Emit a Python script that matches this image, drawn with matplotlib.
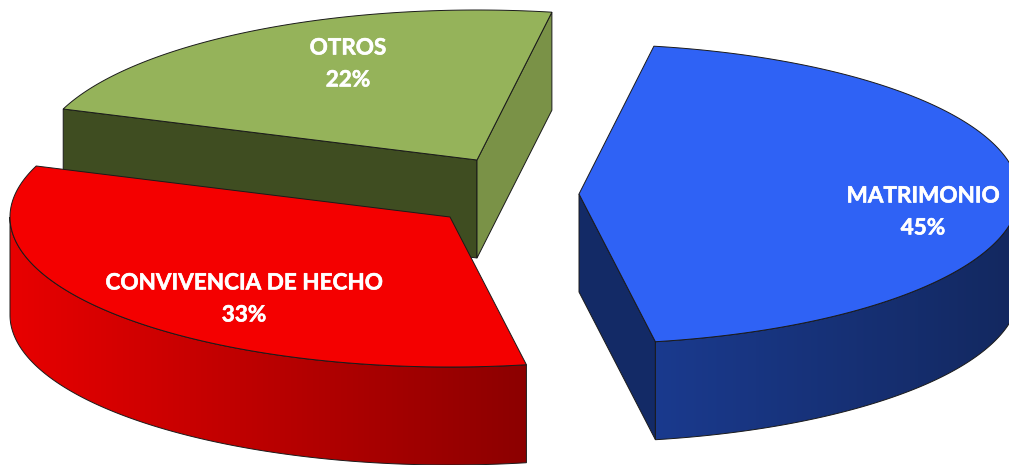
import numpy as np
import matplotlib
matplotlib.use('Agg')
import matplotlib.pyplot as plt
import matplotlib.patheffects as pe
from matplotlib.patches import Polygon
from matplotlib.colors import LinearSegmentedColormap

labels = ['MATRIMONIO', 'OTROS', 'CONVIVENCIA DE HECHO']
percent_text = [45, 22, 33]
values = [44.5, 22.2, 33.3]

# estilo de cada porcion
top_colors = ['#2f62f5', '#95b35a', '#f40000']
front_colors = [('#1a3a8e', '#13285f'), ('#76923c', '#76923c'), ('#e80000', '#8c0000')]
edge_a_colors = ['#132a66', '#7a9247', '#8c0000']   # cara del borde inicial
edge_b_colors = ['#132a66', '#3f4d21', '#8c0000']   # cara del borde final
centers = [(579, 194), (477, 160), (450, 217)]
label_pos = [(923, 196), (348, 48), (244, 283)]

rx, ry = 440, 150
depth = 98
start_angle = -80  # empieza matrimonio, a la derecha
edge = '#1a1a1a'

fig = plt.figure(figsize=(10.09, 4.65), dpi=100)
ax = fig.add_axes([0, 0, 1, 1])
ax.set_xlim(0, 1009)
ax.set_ylim(465, 0)
ax.axis('off')


def pt(c, deg):
    t = np.radians(deg)
    return np.column_stack((c[0] + rx * np.cos(t), c[1] - ry * np.sin(t)))


# angulos a partir de los valores
sweeps = np.array(values) / sum(values) * 360
a1 = start_angle + np.concatenate(([0], np.cumsum(sweeps)[:-1]))
a2 = a1 + sweeps

# se dibuja de atras hacia adelante
for i in [1, 2, 0]:
    c = centers[i]
    d = np.array([0, depth])
    p1 = pt(c, a1[i])[0]
    p2 = pt(c, a2[i])[0]
    cc = np.array(c, dtype=float)

    # caras planas
    if i == 0:
        ax.add_patch(Polygon([cc, p1, p1 + d, cc + d], fc=edge_a_colors[i], ec=edge, lw=0.7))
    if i == 1:
        ax.add_patch(Polygon([cc, p2, p2 + d, cc + d], fc=edge_b_colors[i], ec=edge, lw=0.7))
        ax.add_patch(Polygon([cc, p1, p1 + d, cc + d], fc=edge_a_colors[i], ec=edge, lw=0.7))

    # pared curva de adelante, con degradado
    if a1[i] > 90:
        lo, hi = max(a1[i], 180), min(a2[i], 360)
    else:
        lo, hi = a1[i], min(a2[i], 0)
    if hi > lo:
        cmap = LinearSegmentedColormap.from_list('f', front_colors[i])
        arc = pt(c, np.linspace(lo, hi, 161))
        wall = np.vstack((arc, (arc + d)[::-1]))
        poly = Polygon(wall, closed=True, fc='none', ec=edge, lw=0.7, zorder=2)
        ax.add_patch(poly)
        y0, y1 = wall[:, 1].min(), wall[:, 1].max()
        im = ax.imshow(np.linspace(0, 1, 256).reshape(1, -1), cmap=cmap, aspect='auto',
                       extent=[arc[:, 0].min(), arc[:, 0].max(), y1, y0], zorder=1.5)
        im.set_clip_path(poly)
        ax.set_xlim(0, 1009)
        ax.set_ylim(465, 0)

    # tapa superior
    th = np.linspace(a1[i], a2[i], 200)
    top = np.vstack((cc, pt(c, th)))
    ax.add_patch(Polygon(top, closed=True, fc=top_colors[i], ec=edge, lw=0.7, zorder=3))

for name, v, (x, y) in zip(labels, percent_text, label_pos):
    for s, yy in ((name, y), (f'{v}%', y + 32)):
        ax.text(x, yy, s, color='white', fontsize=16.2, fontweight='bold', family='Lato',
                ha='center', va='center', zorder=4,
                path_effects=[pe.withStroke(linewidth=0.4, foreground='white')])

fig.savefig('out.png', dpi=100)
